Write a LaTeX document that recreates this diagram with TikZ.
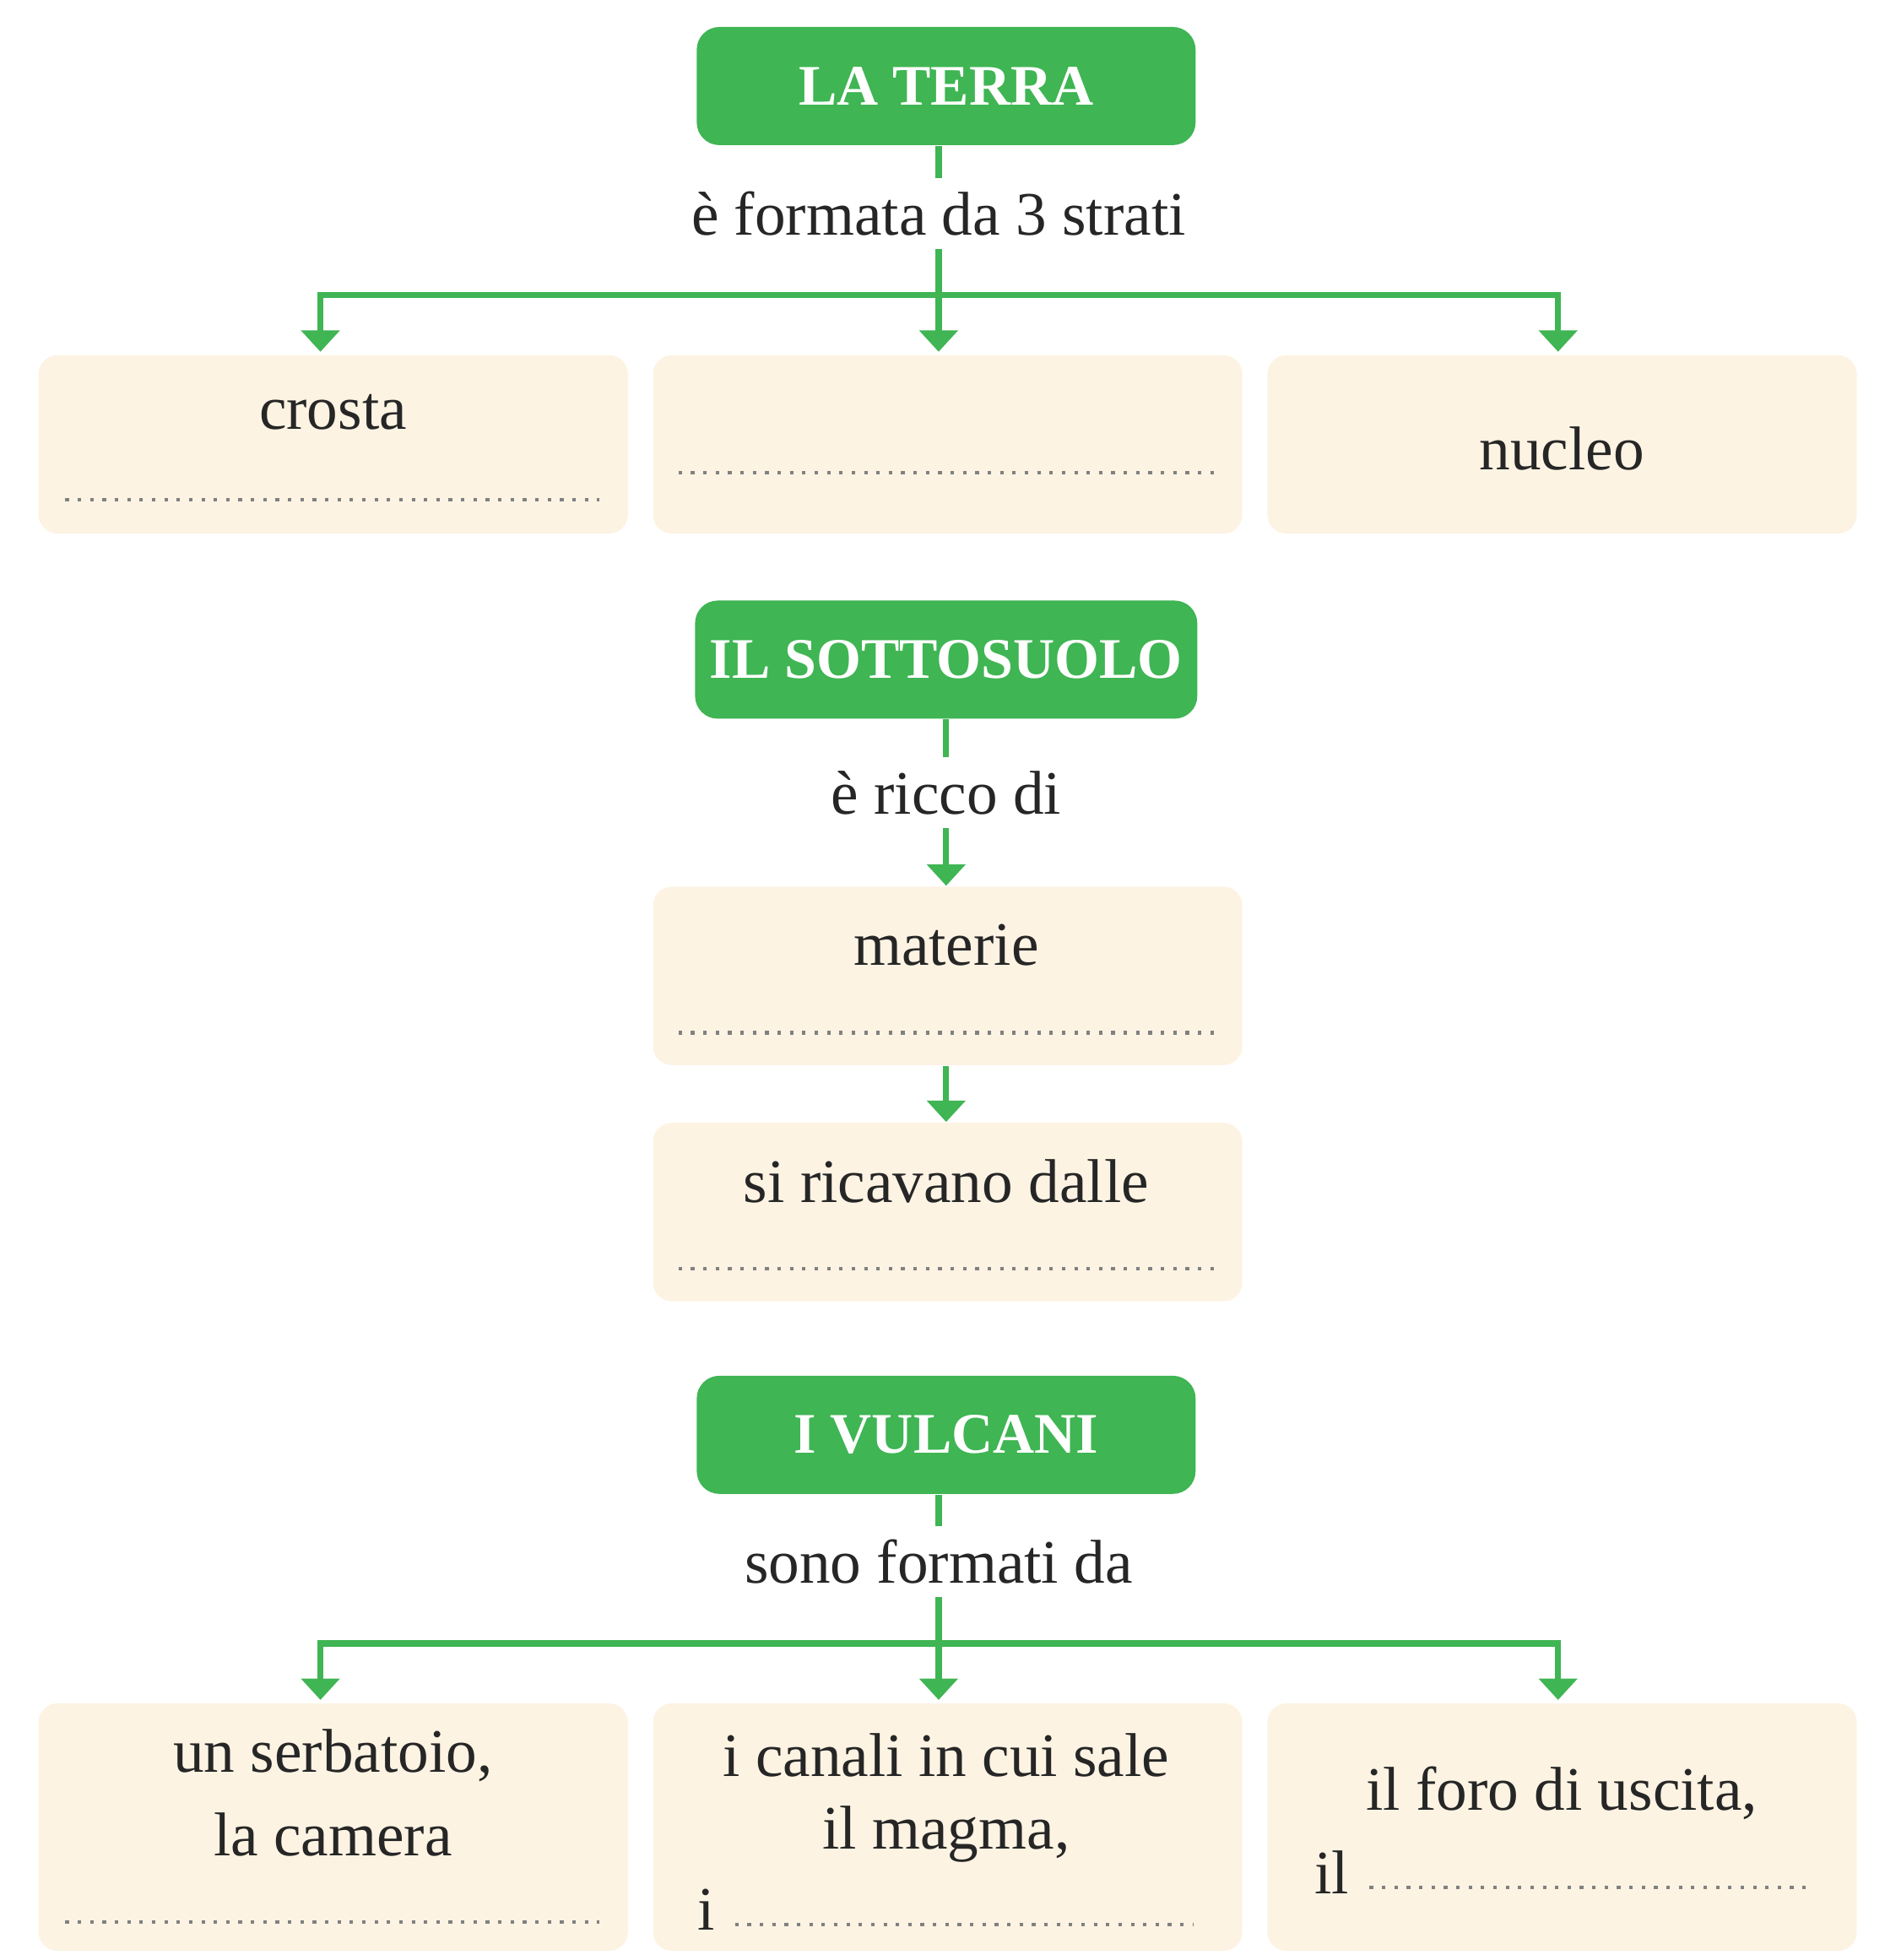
\documentclass[tikz,border=0pt]{standalone}
\usepackage{fontspec}
\setmainfont{Liberation Serif}
\usetikzlibrary{calc,arrows.meta}
\definecolor{verde}{HTML}{3FB553}
\definecolor{crema}{HTML}{FDF3E3}
\tikzset{
  titolo/.style={fill=verde,rounded corners=0.18cm,minimum width=3.97cm,minimum height=0.94cm,text=white,font=\fontsize{13}{16}\selectfont\bfseries},
  casella/.style={fill=crema,rounded corners=0.15cm,minimum width=4.69cm,minimum height=1.42cm},
  testo/.style={font=\fontsize{14}{17}\selectfont,text=black!85,inner sep=0pt},
  etichetta/.style={font=\fontsize{14}{17}\selectfont,text=black!85,inner sep=0.1cm},
  filo/.style={verde,line width=1.4pt},
  freccia/.style={filo,-{Triangle[length=0.17cm,width=0.3cm]}},
  puntini/.style={gray,dotted,line width=0.8pt}
}
\begin{document}
\begin{tikzpicture}
\useasboundingbox (0,0) rectangle (15,-15.6);
% la terra
\node[titolo] (terra) at (7.53,-0.685) {LA TERRA};
\node[etichetta] (strati) at (7.47,-1.70) {è formata da 3 strati};
\draw[filo] (terra.south -| strati) -- (strati.north);
\node[casella,anchor=north west] (crosta) at (0.30,-2.82) {};
\node[casella,anchor=north west] (mantello) at (5.19,-2.82) {};
\node[casella,anchor=north west] (nucleo) at (10.08,-2.82) {};
\node[testo] at (2.65,-3.28) {crosta};
\node[testo] at (12.43,-3.57) {nucleo};
\draw[puntini] (0.52,-3.98) -- (4.77,-3.98);
\draw[puntini] (5.40,-3.76) -- (9.67,-3.76);
\coordinate (nodo1) at (7.47,-2.35);
\draw[filo] (strati.south) -- (nodo1);
\draw[freccia] (nodo1) -| (2.55,-2.8);
\draw[freccia] (nodo1) -| (12.40,-2.8);
\draw[freccia] (nodo1) -- (7.47,-2.8);
% il sottosuolo
\node[titolo] (sotto) at (7.53,-5.25) {IL SOTTOSUOLO};
\node[etichetta] (ricco) at (7.53,-6.31) {è ricco di};
\node[casella,anchor=north west] (materie) at (5.19,-7.05) {};
\node[casella,anchor=north west] (dalle) at (5.19,-8.93) {};
\node[testo] at (7.53,-7.52) {materie};
\node[testo] at (7.53,-9.40) {si ricavano dalle};
\draw[puntini] (5.40,-8.22) -- (9.67,-8.22);
\draw[puntini] (5.40,-10.10) -- (9.67,-10.10);
\draw[filo] (sotto.south) -- (ricco.north);
\draw[freccia] (ricco.south) -- (ricco.south |- materie.north);
\draw[freccia] (materie.south -| ricco) -- (ricco |- dalle.north);
% i vulcani
\node[titolo] (vulcani) at (7.53,-11.42) {I VULCANI};
\node[etichetta] (formati) at (7.47,-12.43) {sono formati da};
\draw[filo] (vulcani.south -| formati) -- (formati.north);
\node[casella,anchor=north west,minimum height=1.97cm] (camera) at (0.30,-13.55) {};
\node[casella,anchor=north west,minimum height=1.97cm] (camino) at (5.19,-13.55) {};
\node[casella,anchor=north west,minimum height=1.97cm] (cratere) at (10.08,-13.55) {};
\node[testo] at (2.65,-13.97) {un serbatoio,};
\node[testo] at (2.65,-14.60) {la camera};
\draw[puntini] (0.52,-15.30) -- (4.77,-15.30);
\node[testo] at (7.53,-13.97) {i canali in cui sale};
\node[testo] at (7.53,-14.60) {il magma,};
\node[testo] at (5.62,-15.20) {i};
\draw[puntini] (5.85,-15.32) -- (9.50,-15.32);
\node[testo] at (12.43,-14.27) {il foro di uscita,};
\node[testo] at (10.60,-14.90) {il};
\draw[puntini] (10.90,-15.02) -- (14.38,-15.02);
\coordinate (nodo2) at (7.47,-13.08);
\draw[filo] (formati.south) -- (nodo2);
\draw[freccia] (nodo2) -| (2.55,-13.53);
\draw[freccia] (nodo2) -| (12.40,-13.53);
\draw[freccia] (nodo2) -- (7.47,-13.53);
\end{tikzpicture}
\end{document}
